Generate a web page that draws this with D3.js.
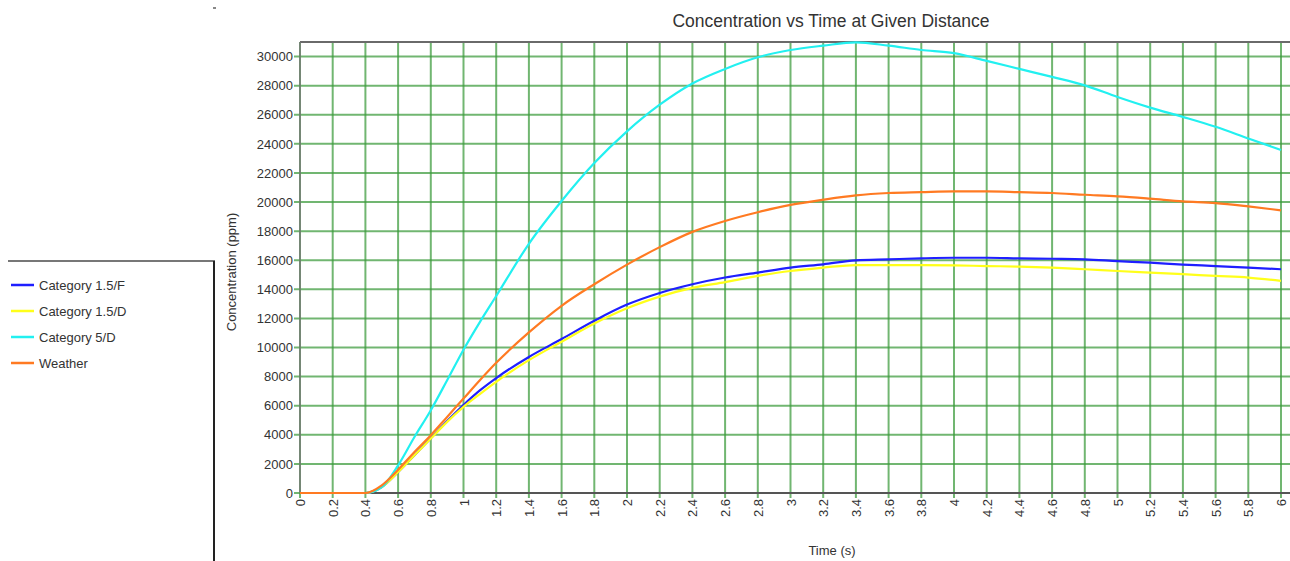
<!DOCTYPE html>
<html>
<head>
<meta charset="utf-8">
<script src="https://cdn.jsdelivr.net/npm/d3@7"></script>
<style>
  body { margin: 0; background: #fff; }
  svg { display: block; font-family: "Liberation Sans", Arial, sans-serif; }
</style>
</head>
<body>
<svg id="chart" width="1290" height="561"></svg>
<script>
// time samples (s)
const times = [0, 0.2, 0.4, 0.5, 0.6, 0.7, 0.8, 0.9, 1.0, 1.1, 1.2, 1.4, 1.6, 1.8, 2.0, 2.2, 2.4, 2.6, 2.8, 3.0,
               3.2, 3.4, 3.6, 3.8, 4.0, 4.2, 4.4, 4.6, 4.8, 5.0, 5.2, 5.4, 5.6, 5.8, 6.0];

// concentration (ppm) per series
const cat15F = [0, 0, 0, 410, 1440, 2600, 3760, 4950, 6050, 7050, 7900, 9350, 10580, 11840, 12950, 13750, 14350, 14810, 15150, 15490,
                15720, 15990, 16060, 16130, 16170, 16170, 16130, 16100, 16060, 15940, 15830, 15700, 15600, 15490, 15380];
const cat15D = [0, 0, 0, 410, 1440, 2590, 3740, 4890, 5920, 6800, 7640, 9130, 10400, 11650, 12700, 13500, 14100, 14500, 14920, 15260,
                15490, 15670, 15670, 15670, 15650, 15600, 15560, 15490, 15380, 15260, 15150, 15040, 14920, 14810, 14580];
const cat5D  = [0, 0, 0, 400, 1900, 3850, 5690, 7750, 9850, 11750, 13540, 17130, 20070, 22680, 24860, 26690, 28150, 29150, 29950, 30450,
                30750, 30980, 30750, 30450, 30230, 29700, 29150, 28600, 28020, 27220, 26490, 25850, 25170, 24370, 23580];
const weather = [0, 0, 0, 530, 1600, 2820, 3970, 5230, 6490, 7750, 8950, 11040, 12870, 14350, 15700, 16900, 17950, 18700, 19300, 19800,
                 20160, 20460, 20620, 20680, 20730, 20730, 20680, 20620, 20500, 20390, 20230, 20050, 19930, 19700, 19430];

const seriesNames = ["Category 1.5/F", "Category 1.5/D", "Category 5/D", "Weather"];
const seriesColors = ["#1f1fff", "#ffff1a", "#22f0f0", "#ff7a22"];
const seriesValues = [cat15F, cat15D, cat5D, weather];

const xTicks = [0, 0.2, 0.4, 0.6, 0.8, 1, 1.2, 1.4, 1.6, 1.8, 2, 2.2, 2.4, 2.6, 2.8, 3, 3.2, 3.4, 3.6, 3.8,
                4, 4.2, 4.4, 4.6, 4.8, 5, 5.2, 5.4, 5.6, 5.8, 6];
const yTicks = [0, 2000, 4000, 6000, 8000, 10000, 12000, 14000, 16000, 18000, 20000, 22000, 24000, 26000, 28000, 30000];

const svg = d3.select("#chart");
const plotLeft = 300, plotTop = 42, plotBottom = 493, plotRight = 1281, plotEdge = 1290;

const x = d3.scaleLinear().domain([0, 6]).range([plotLeft, plotRight]);
const y = d3.scaleLinear().domain([0, 31000]).range([plotBottom, plotTop]);

// grid (extends a little past the axes, like tick marks)
const grid = svg.append("g").attr("class", "grid")
    .attr("stroke", "#3a9a3a").attr("stroke-opacity", 0.72).attr("stroke-width", 2);

grid.selectAll("line.v")
    .data(xTicks)
    .enter().append("line")
    .attr("class", "v")
    .attr("x1", d => x(d)).attr("x2", d => x(d))
    .attr("y1", plotTop).attr("y2", plotBottom + 5);

grid.selectAll("line.h")
    .data(yTicks)
    .enter().append("line")
    .attr("class", "h")
    .attr("x1", plotLeft - 6).attr("x2", plotEdge)
    .attr("y1", d => y(d)).attr("y2", d => y(d));

// frame
svg.append("line").attr("x1", plotLeft).attr("x2", plotEdge).attr("y1", plotTop).attr("y2", plotTop)
    .attr("stroke", "#6a6a6a").attr("stroke-width", 2);
svg.append("line").attr("x1", plotLeft).attr("x2", plotEdge).attr("y1", plotBottom).attr("y2", plotBottom)
    .attr("stroke", "#555").attr("stroke-width", 2);
svg.append("line").attr("x1", plotLeft).attr("x2", plotLeft).attr("y1", plotTop).attr("y2", plotBottom)
    .attr("stroke", "#777").attr("stroke-width", 1.5);

// y axis labels
const yAxis = svg.append("g")
    .attr("transform", `translate(${plotLeft},0)`)
    .call(d3.axisLeft(y).tickValues(yTicks).tickSize(0).tickPadding(7).tickFormat(d3.format("d")));
yAxis.select(".domain").remove();
yAxis.selectAll("text")
    .attr("font-family", "Liberation Sans, Arial, sans-serif")
    .attr("font-size", 13)
    .attr("fill", "#333");

// x axis labels (rotated)
const xAxis = svg.append("g")
    .attr("transform", `translate(0,${plotBottom})`)
    .call(d3.axisBottom(x).tickValues(xTicks).tickSize(0).tickFormat(d => String(d)));
xAxis.select(".domain").remove();
xAxis.selectAll("text")
    .attr("font-family", "Liberation Sans, Arial, sans-serif")
    .attr("font-size", 13)
    .attr("fill", "#333")
    .attr("text-anchor", "end")
    .attr("transform", "rotate(-90)")
    .attr("x", -6)
    .attr("y", 0)
    .attr("dy", "0.35em");

// series lines
const line = d3.line()
    .x((d, i) => x(times[i]))
    .y(d => y(d))
    .curve(d3.curveMonotoneX);

svg.append("g").attr("class", "series")
    .selectAll("path")
    .data(seriesValues)
    .enter().append("path")
    .attr("d", d => line(d))
    .attr("fill", "none")
    .attr("stroke", (d, i) => seriesColors[i])
    .attr("stroke-width", 2.2)
    .attr("stroke-linejoin", "round");

// titles
svg.append("text")
    .attr("x", 831).attr("y", 27)
    .attr("text-anchor", "middle")
    .attr("font-size", 17.5)
    .attr("fill", "#333")
    .text("Concentration vs Time at Given Distance");

svg.append("text")
    .attr("transform", "translate(236,272) rotate(-90)")
    .attr("text-anchor", "middle")
    .attr("font-size", 13)
    .attr("fill", "#333")
    .text("Concentration (ppm)");

svg.append("text")
    .attr("x", 832).attr("y", 555)
    .attr("text-anchor", "middle")
    .attr("font-size", 13)
    .attr("fill", "#333")
    .text("Time (s)");

// stray mark in the corner
svg.append("rect").attr("x", 213).attr("y", 7).attr("width", 3).attr("height", 2).attr("fill", "#888");

// legend box (clipped by the window edge)
const legend = svg.append("g").attr("class", "legend");
legend.append("line").attr("x1", 8).attr("x2", 215).attr("y1", 261).attr("y2", 261)
    .attr("stroke", "#777").attr("stroke-width", 2);
legend.append("line").attr("x1", 214).attr("x2", 214).attr("y1", 261).attr("y2", 561)
    .attr("stroke", "#222").attr("stroke-width", 2);

const items = legend.selectAll("g.item")
    .data(seriesNames)
    .enter().append("g")
    .attr("class", "item")
    .attr("transform", (d, i) => `translate(0,${285 + i * 26})`);

items.append("line")
    .attr("x1", 11).attr("x2", 34).attr("y1", 0).attr("y2", 0)
    .attr("stroke", (d, i) => seriesColors[i])
    .attr("stroke-width", 2.5);

items.append("text")
    .attr("x", 39).attr("y", 0).attr("dy", "0.35em")
    .attr("font-size", 13)
    .attr("fill", "#333")
    .text(d => d);
</script>
</body>
</html>
